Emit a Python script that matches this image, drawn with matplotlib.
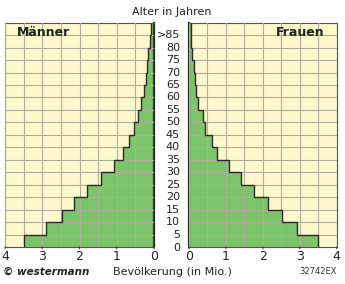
import matplotlib.pyplot as plt
import numpy as np

# Altersgruppen (untere Grenze) und Bevölkerung in Mio.
alter = [0, 5, 10, 15, 20, 25, 30, 35, 40, 45, 50, 55, 60, 65, 70, 75, 80, 85]
maenner = [3.49, 2.91, 2.48, 2.15, 1.81, 1.42, 1.08, 0.84, 0.66,
           0.54, 0.44, 0.35, 0.28, 0.22, 0.19, 0.15, 0.12, 0.08]
frauen = [3.49, 2.92, 2.51, 2.15, 1.77, 1.40, 1.07, 0.75, 0.61,
          0.43, 0.39, 0.25, 0.19, 0.16, 0.14, 0.09, 0.05, 0.05]
alter_labels = ["0", "5", "10", "15", "20", "25", "30", "35", "40",
                "45", "50", "55", "60", "65", "70", "75", "80", ">85"]
x_ticks = [0, 1, 2, 3, 4]

GRUEN = "#7cc46a"
CREME = "#fff8cc"
GITTER = "#b0ad9a"
DUNKEL = "#2a2a2a"

plt.rcParams["font.family"] = ["Liberation Sans Narrow", "DejaVu Sans"]

fig = plt.figure(figsize=(3.45, 2.84), dpi=100)
ax_l = fig.add_axes([5 / 345, 37 / 284, 149 / 345, 224.3 / 284])
ax_r = fig.add_axes([189 / 345, 37 / 284, 147.7 / 345, 224.3 / 284])

kanten = np.array(alter + [90])

for ax, werte in ((ax_l, maenner), (ax_r, frauen)):
    ax.set_facecolor(CREME)
    ax.stairs(werte, kanten, orientation="horizontal", baseline=0,
              fill=True, color=GRUEN, zorder=1)
    ax.set_xlim(0, 4)
    ax.set_ylim(0, 90)
    ax.set_xticks(np.arange(0, 4.01, 0.5))
    ax.set_yticks(alter)
    ax.grid(True, color=GITTER, linewidth=0.8, zorder=2)
    ax.set_axisbelow(False)
    ax.stairs(werte, kanten, orientation="horizontal", baseline=None,
              color=DUNKEL, linewidth=1.0, zorder=3)
    for s in ax.spines.values():
        s.set_color("#555555")
        s.set_linewidth(0.8)
    ax.tick_params(axis="y", left=False, right=False,
                   labelleft=False, labelright=False)
    ax.tick_params(axis="x", length=0, labelbottom=False)
    for t in x_ticks:
        ax.annotate("", xy=(t, 0), xytext=(t, -1.8), xycoords="data",
                    annotation_clip=False,
                    arrowprops=dict(arrowstyle="-", color="#333333", lw=0.8))
        ax.text(t, -1.4, str(t), ha="center", va="top", fontsize=9,
                color="#222222", clip_on=False)

ax_l.invert_xaxis()
ax_l.spines["right"].set_color(DUNKEL)
ax_l.spines["right"].set_linewidth(1.6)
ax_r.spines["left"].set_color(DUNKEL)
ax_r.spines["left"].set_linewidth(1.6)

# Altersbeschriftung in der Mitte
for a, lab in zip(alter, alter_labels):
    y = 247 - (a / 90) * 224.3
    if a == 0:
        y += 1
    fig.text(180 / 345, 1 - y / 284, lab, ha="right", va="center",
             fontsize=8, color="#222222")

fig.text(172 / 345, 1 - 12 / 284, "Alter in Jahren", ha="center",
         va="center", fontsize=8, color="#222222")
ax_l.text(0.08, 0.955, "Männer", transform=ax_l.transAxes, ha="left",
          va="center", fontsize=9, fontweight="bold",
          family=["DejaVu Sans"], color="#222222")
ax_r.text(0.92, 0.955, "Frauen", transform=ax_r.transAxes, ha="right",
          va="center", fontsize=9, fontweight="bold",
          family=["DejaVu Sans"], color="#222222")

fig.text(3 / 345, 1 - 272 / 284, "© westermann", ha="left", va="center",
         fontsize=7.5, fontweight="bold", fontstyle="italic",
         family=["DejaVu Sans"], color="#222222")
fig.text(172 / 345, 1 - 272 / 284, "Bevölkerung (in Mio.)", ha="center",
         va="center", fontsize=8, color="#222222")
fig.text(337 / 345, 1 - 272 / 284, "32742EX", ha="right", va="center",
         fontsize=6, family=["DejaVu Sans"], color="#333333")

fig.savefig("out.png", dpi=100)
